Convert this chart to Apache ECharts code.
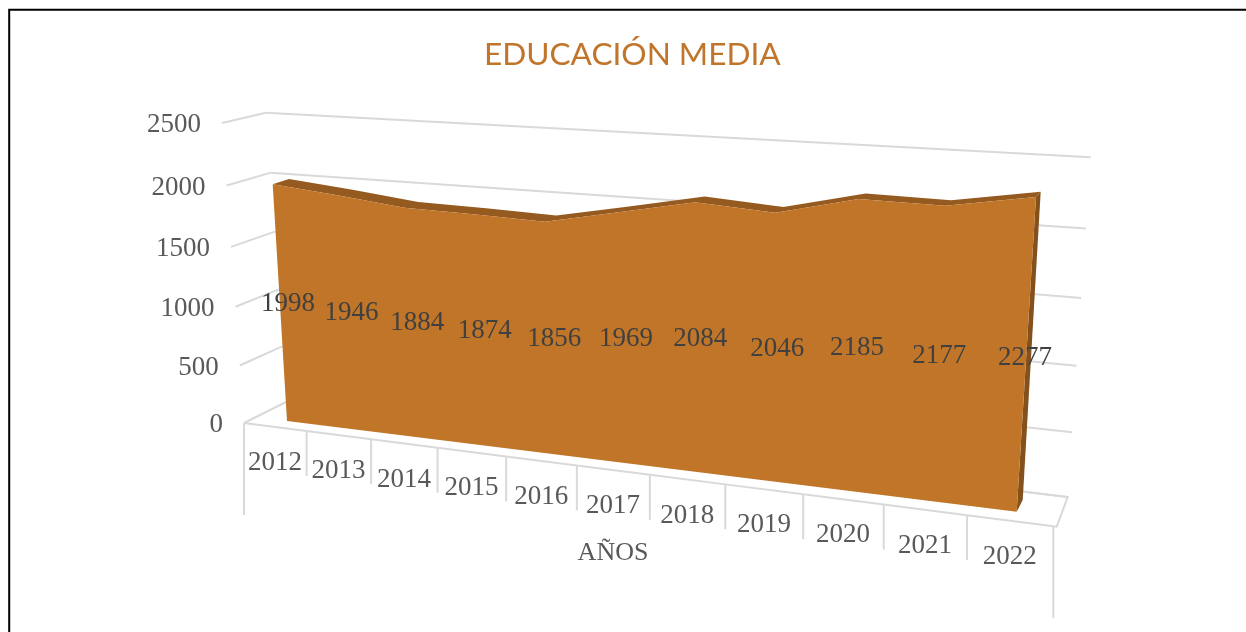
<!DOCTYPE html>
<html><head><meta charset="utf-8">
<style>html,body{margin:0;padding:0;background:#fff}#c{width:1246px;height:632px}</style>
<script src="https://cdn.jsdelivr.net/npm/echarts@6/dist/echarts.min.js"></script>
</head><body><div id="c"></div>
<script>
const titleText = 'EDUCACIÓN MEDIA';
const xTitle = 'AÑOS';
const categories = ['2012','2013','2014','2015','2016','2017','2018','2019','2020','2021','2022'];
const values = [1998,1946,1884,1874,1856,1969,2084,2046,2185,2177,2277];
const yTicks = [0,500,1000,1500,2000,2500];
const yMax = 2500;

// ---- perspective set-up: planes of the 3D box, unit coords -> screen
function homography(src, dst){
  const A=[];
  for(let i=0;i<4;i++){
    const [u,v]=src[i],[x,y]=dst[i];
    A.push([u,v,1,0,0,0,-u*x,-v*x,x]);
    A.push([0,0,0,u,v,1,-u*y,-v*y,y]);
  }
  for(let c=0;c<8;c++){
    let p=c;for(let r=c+1;r<8;r++)if(Math.abs(A[r][c])>Math.abs(A[p][c]))p=r;
    [A[c],A[p]]=[A[p],A[c]];
    for(let r=0;r<8;r++){if(r===c)continue;const f=A[r][c]/A[c][c];for(let k=c;k<9;k++)A[r][k]-=f*A[c][k];}
  }
  const h=A.map((row,i)=>row[8]/row[i]);
  return (u,v)=>{const w=h[6]*u+h[7]*v+1;return [(h[0]*u+h[1]*v+h[2])/w,(h[3]*u+h[4]*v+h[5])/w];};
}
const n=categories.length;
const uA=0.5/n,uB=(n-0.5)/n;
const wA=values[0]/yMax,wB=values[n-1]/yMax;
// a little extra foreshortening along the category direction, ends stay fixed
const foreshorten=0.02;
function warped(H){return (u,v)=>{const s=(u-uA)/(uB-uA);return H(uA+(uB-uA)*s/(1+foreshorten*(1-s)),v);};}
const frontFace=warped(homography([[uA,0],[uB,0],[uB,wB],[uA,wA]],[[287,421],[1016.7,511.7],[1036,197],[272.7,184.3]]));
const backFace =warped(homography([[uA,0],[uB,0],[uB,wB],[uA,wA]],[[303,410],[1022.7,500],[1040.7,191.7],[289,179]]));
const labelFace=warped(homography([[uA,0],[uB,0],[uB,wB/2],[uA,wA/2]],[[295,417],[1019.7,506],[1025,356],[288,302]]));
const backWall =homography([[0,0],[1,0],[1,1],[0,1]],[[286,402],[1067.7,497],[1090.7,157.3],[266,112.7]]);
const sideWall =homography([[0,0],[1,0],[1,1],[0,1]],[[244,423],[285,402],[266,112.7],[222,123]]);
const floor    =homography([[0,0],[1,0],[1,1],[0,1]],[[244,423],[1053.3,526.2],[1067.7,497],[285.75,402.12]]);
const floorCorner=[1056.7,526.7];

const GREY='#D9D9D9',TXT='#595959',LBL='#404040',SERIF='"Liberation Serif",serif',FS='27px ';

function unit(api,p){const s=api.__sys;return [(p[0]-s.x)/s.width,(s.y+s.height-p[1])/s.height];}
function ctx(params,api){api.__sys=params.coordSys;return api;}
const lineStyle={stroke:GREY,lineWidth:2,fill:null};
const poly=(pts)=>({type:'polyline',shape:{points:pts},style:lineStyle,silent:true});

function renderWalls(params,api){
  ctx(params,api);
  const [,w]=unit(api,api.coord([0,api.value(1)]));
  const a=sideWall(0,w),b=backWall(0,w),c=backWall(1,w);
  const children=[poly([a,b]),poly([b,c])];
  children.push({type:'text',style:{text:String(api.value(1)),x:a[0]-21,y:a[1]+2,align:'right',verticalAlign:'middle',font:FS+SERIF,fill:TXT}});
  return {type:'group',children};
}
function renderFloor(params,api){
  ctx(params,api);
  const idx=api.value(0);
  const p=api.coord([idx,0]);const [u]=unit(api,p);const bw=api.size([1,0])[0]/params.coordSys.width;
  const L=floor(u-bw/2,0),R=floor(u+bw/2,0),C=floor(u,0);
  const children=[poly([L,R])];
  const last=idx===n-1;
  if(!last)children.push(poly([R,[R[0],R[1]+45]]));
  else{children.push(poly([R,[R[0],R[1]+92]]));children.push(poly([R,floorCorner,floor(1,1),floor(0,1)]));}
  if(idx===0)children.push(poly([L,[L[0],L[1]+92]]));
  children.push({type:'text',style:{text:categories[idx],x:C[0],y:C[1]+36,align:'center',verticalAlign:'middle',font:FS+SERIF,fill:TXT}});
  return {type:'group',children};
}
function renderArea(params,api){
  ctx(params,api);
  const pts=values.map((v,i)=>unit(api,api.coord([i,v])));
  const front=pts.map(p=>frontFace(p[0],p[1]));
  const back=pts.map(p=>backFace(p[0],p[1]));
  const base=unit(api,api.coord([0,0]))[1];
  const fb0=frontFace(uA,base),fb1=frontFace(uB,base),bb1=backFace(uB,base);
  return {type:'group',children:[
    {type:'polygon',shape:{points:[front[n-1],back[n-1],bb1,fb1]},style:{fill:'#84501B'},silent:true},
    {type:'polygon',shape:{points:back.concat(front.slice().reverse())},style:{fill:'#955A1F'},silent:true},
    {type:'polygon',shape:{points:[fb0].concat(front,[fb1])},style:{fill:'#C07528'},silent:true}
  ]};
}
function renderLabels(params,api){
  ctx(params,api);
  const v=api.value(1);
  const p=unit(api,api.coord([api.value(0),v/2]));
  const s=labelFace(p[0],p[1]);
  return {type:'text',style:{text:String(v),x:s[0],y:s[1]+1.5,align:'center',verticalAlign:'middle',font:FS+SERIF,fill:LBL},silent:true};
}

const chart=echarts.init(document.getElementById('c'),null,{renderer:'canvas'});
chart.setOption({
  animation:false,
  backgroundColor:'#fff',
  title:{text:titleText,left:484,top:39,textStyle:{fontFamily:'Lato',fontSize:31.6,fontWeight:'normal',color:'#C0752A'},padding:0},
  grid:{left:0,right:0,top:0,bottom:0},
  xAxis:{type:'category',data:categories,show:false,boundaryGap:true},
  yAxis:{type:'value',min:0,max:yMax,interval:500,show:false},
  graphic:[
    {type:'polyline',shape:{points:[[9.2,640],[9.2,9.8],[1250,9.8]]},style:{fill:null,stroke:'#000',lineWidth:2},silent:true},
    {type:'text',style:{text:xTitle,x:613,y:553,align:'center',verticalAlign:'middle',font:'26px '+SERIF,fill:TXT},silent:true}
  ],
  series:[
    {type:'custom',clip:false,z:1,silent:true,renderItem:renderWalls,data:yTicks.map(t=>[0,t]),encode:{x:0,y:1}},
    {type:'custom',clip:false,z:2,silent:true,renderItem:renderFloor,data:categories.map((c,i)=>[i,0]),encode:{x:0,y:1}},
    {type:'custom',clip:false,z:3,silent:true,renderItem:renderArea,data:[[0,values[0]]],encode:{x:0,y:1}},
    {type:'custom',clip:false,z:4,silent:true,renderItem:renderLabels,data:values.map((v,i)=>[i,v]),encode:{x:0,y:1}}
  ]
});
</script></body></html>
